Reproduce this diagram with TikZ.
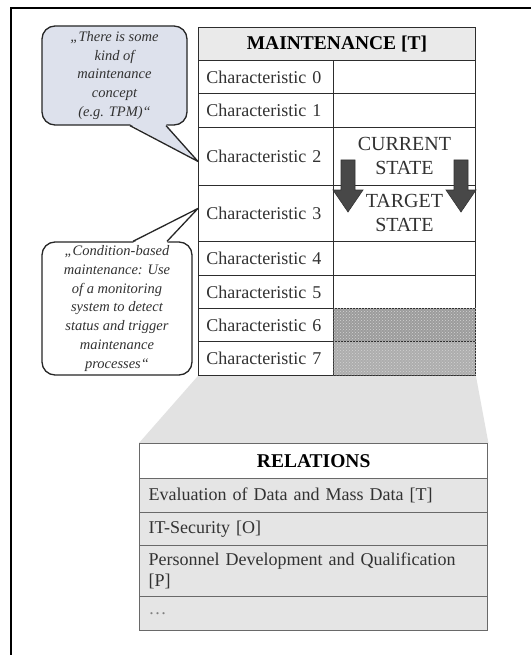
\documentclass[tikz,border=0pt]{standalone}
\usepackage{fontspec}
\setmainfont{Liberation Serif}
\usepackage{xcolor}
\usepackage{tikz}
\usetikzlibrary{positioning, calc, patterns, backgrounds}
\definecolor{darktext}{RGB}{50, 50, 50}
\definecolor{linedark}{RGB}{45, 45, 45}
\definecolor{relline}{RGB}{105, 105, 105}
\definecolor{relfill}{RGB}{229, 229, 229}
\definecolor{headgray}{RGB}{234, 234, 234}
\definecolor{bubbleblue}{RGB}{221, 225, 236}
\definecolor{fangray}{RGB}{226, 226, 226}
\definecolor{arrowgray}{RGB}{72, 72, 72}

\begin{document}
\begin{tikzpicture}[
  x=1pt, y=-1pt,
  celda/.style={draw=linedark, line width=0.9pt, anchor=north west, minimum height=#1pt, inner xsep=8pt, inner ysep=0pt, text width=119pt, align=left, font=\fontsize{18}{21}\selectfont, text=darktext},
  vacia/.style={draw=linedark, line width=0.9pt, anchor=north west, minimum height=#1pt, minimum width=142pt, inner sep=0pt},
  cabeza/.style={draw=linedark, line width=0.9pt, anchor=north west, minimum height=33pt, minimum width=277pt, fill=headgray, font=\fontsize{19.5}{22}\selectfont\bfseries},
  estado/.style={align=center, font=\fontsize{20}{24}\selectfont, text=darktext, inner sep=0pt},
  globo/.style={draw=black!85, line width=1.3pt, rounded corners=13pt, align=center, inner sep=0pt, font=\fontsize{14.5}{18.9}\selectfont\itshape, text=darktext},
  borde/.style={draw=black!85, line width=1.3pt, line join=round},
  relcelda/.style={draw=relline, line width=1.4pt, fill=relfill, anchor=north west, minimum height=#1pt, inner xsep=9pt, inner ysep=0pt, text width=330pt, align=left, font=\fontsize{18}{21}\selectfont, text=darktext},
  relcabeza/.style={relcelda=35, fill=white, align=center, text=black, font=\fontsize{19.5}{22}\selectfont\bfseries}
]
\useasboundingbox (0,0) rectangle (531,655);
% Marco
\draw[line width=1.3pt] (11,655) -- (11,8) -- (531,8);
% Tabla principal
\node[cabeza] (kopf) at (198,27) {MAINTENANCE [T]};
\foreach \i/\oben/\hoch in {0/60/33, 1/93/34, 2/127/58, 3/185/56, 4/241/34, 5/275/33, 6/308/33, 7/341/34}{
  \node[celda=\hoch] (char\i) at (198,\oben) {Characteristic \i};
  \node[vacia=\hoch] (state\i) at (333,\oben) {};
}
\foreach \j/\c in {6/gray!78, 7/gray!64}
  \draw[linedark, line width=0.9pt, fill=\c, postaction={pattern=crosshatch dots, pattern color=gray!35}] (state\j.north west) rectangle (state\j.south east);
\node[estado] (current) at (state2) {CURRENT\\STATE};
\node[estado] (target) at (state3) {TARGET\\STATE};
% Flechas de estado
\foreach \ax in {348,461}
  \filldraw[fill=arrowgray, draw=black!80, line width=0.6pt] (\ax-7,160) -- (\ax+7,160) -- (\ax+7,190) -- (\ax+15,190) -- (\ax,212) -- (\ax-15,190) -- (\ax-7,190) -- cycle;
% Globos
\node[globo, fill=bubbleblue, minimum width=145pt, minimum height=99pt] (zitat1) at (114.5,75.5) {„There is some\\kind of\\maintenance\\concept\\(e.g. TPM)“};
\coordinate (spitze1) at ([yshift=-5pt]char2.west);
\fill[bubbleblue] ($(zitat1.south)+(15.5,-1.5)$) -- (spitze1) -- ($(zitat1.south)+(51.5,-1.5)$) -- cycle;
\draw[borde] ($(zitat1.south)+(15.5,0)$) -- (spitze1) -- ($(zitat1.south)+(51.5,0)$);
\node[globo, fill=white, minimum width=150pt, minimum height=133pt] (zitat2) at (117,308.5) {„Condition-based\\maintenance: Use\\of a monitoring\\system to detect\\status and trigger\\maintenance\\processes“};
\coordinate (spitze2) at ([yshift=5pt]char3.west);
\fill[white] ($(zitat2.north)+(16,1.5)$) -- (spitze2) -- ($(zitat2.north)+(50,1.5)$) -- cycle;
\draw[borde] ($(zitat2.north)+(16,0)$) -- (spitze2) -- ($(zitat2.north)+(50,0)$);
% Tabla de relaciones
\node[relcabeza] (relkopf) at (139,443) {RELATIONS};
\node[relcelda=34] (rel1) at (139,478) {Evaluation of Data and Mass Data [T]};
\node[relcelda=33] (rel2) at (139,512) {IT-Security [O]};
\node[relcelda=51] (rel3) at (139,545) {Personnel Development and Qualification\\{}[P]};
\node[relcelda=34] (rel4) at (139,596) {\textcolor{gray}{\ldots}};
% Fondo y abanico
\begin{scope}[on background layer]
  \fill[white] (0,0) rectangle (531,655);
  \fill[fangray] (char7.south west) -- (state7.south east) -- (relkopf.north east) -- (relkopf.north west) -- cycle;
\end{scope}
\end{tikzpicture}
\end{document}
